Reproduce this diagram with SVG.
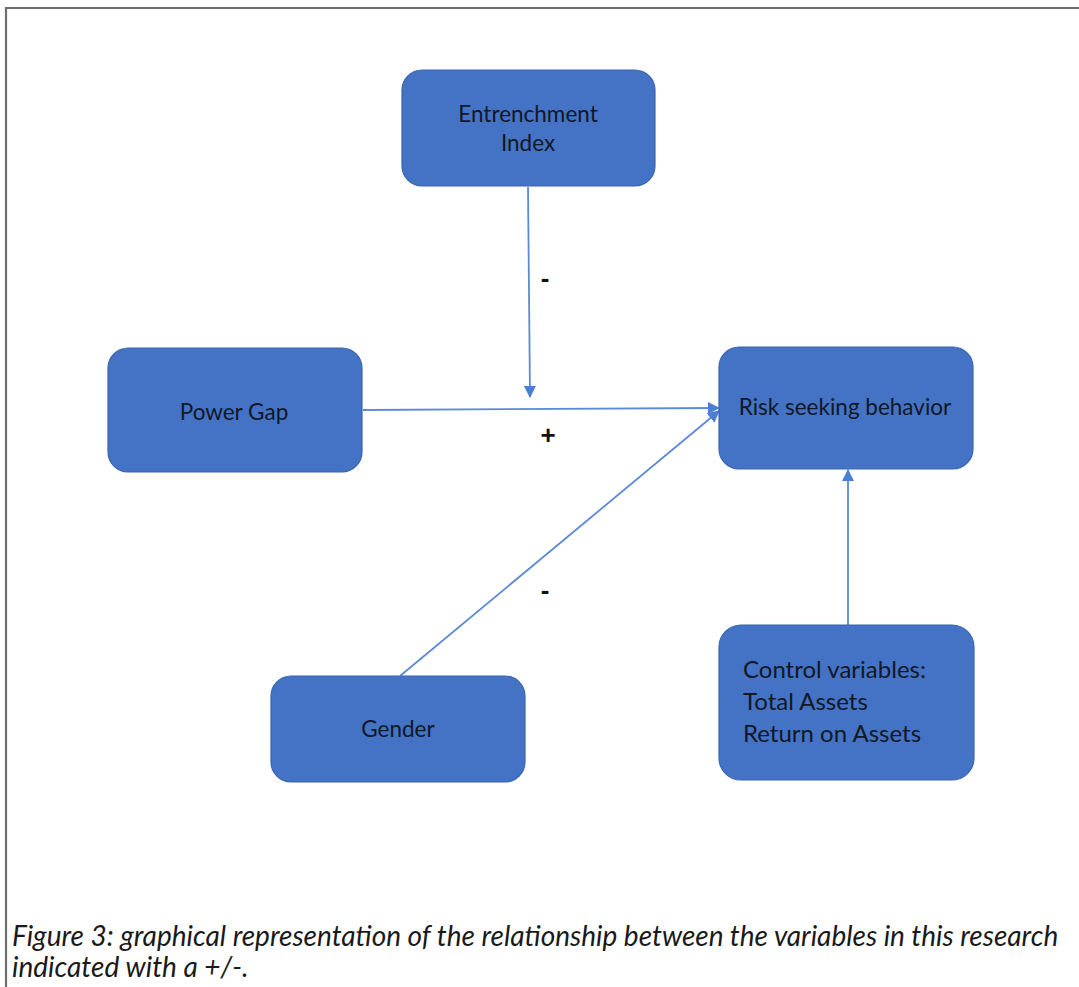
<svg xmlns="http://www.w3.org/2000/svg" width="1079" height="987" viewBox="0 0 1079 987">
<defs>
<marker id="arr" viewBox="0 0 12 12" refX="11" refY="6" markerWidth="12" markerHeight="12" markerUnits="userSpaceOnUse" orient="auto">
<path d="M0,0 L12,6 L0,12 z" fill="#4a7fd4"/>
</marker>
<style>
.node{fill:#4472C4;stroke:#3b65b0;stroke-width:1.2}
.lbl{font-family:Lato,"Open Sans","Liberation Sans",sans-serif;font-size:22.5px;fill:#111826;text-anchor:middle}
.ctl{font-family:Lato,"Open Sans","Liberation Sans",sans-serif;font-size:24px;fill:#111826}
.edge{stroke:#5b8ad6;stroke-width:1.8;fill:none}
.sign{font-family:"Liberation Sans",Arial,sans-serif;font-size:26px;font-weight:bold;fill:#111;text-anchor:middle}
.cap{font-family:Lato,"Open Sans","Liberation Sans",sans-serif;font-style:italic;font-size:28px;fill:#1a1a1a}
</style>
</defs>
<rect width="1079" height="987" fill="#fff"/>
<g id="frame" stroke="#6e6e6e" stroke-width="2.2" fill="none">
<path d="M6,987 L6,8 L1079,8"/>
</g>
<g id="connectors">
<line class="edge" x1="528" y1="187" x2="530" y2="397" marker-end="url(#arr)"/>
<line class="edge" x1="363" y1="410" x2="719" y2="408" marker-end="url(#arr)"/>
<line class="edge" x1="400" y1="676" x2="719" y2="411" marker-end="url(#arr)"/>
<line class="edge" x1="848" y1="625" x2="848" y2="470" marker-end="url(#arr)"/>
<text class="sign" x="545" y="287">-</text>
<text class="sign" x="548" y="444">+</text>
<text class="sign" x="545" y="599">-</text>
</g>
<g id="entrenchment">
<rect class="node" x="402" y="70" width="253" height="116" rx="20"/>
<text class="lbl" x="528" y="122">Entrenchment</text>
<text class="lbl" x="528" y="151">Index</text>
</g>
<g id="powergap">
<rect class="node" x="108" y="348" width="254" height="124" rx="20"/>
<text class="lbl" x="234" y="420">Power Gap</text>
</g>
<g id="risk">
<rect class="node" x="719" y="347" width="254" height="122" rx="20"/>
<text class="lbl" x="845" y="415">Risk seeking behavior</text>
</g>
<g id="gender">
<rect class="node" x="271" y="676" width="254" height="106" rx="20"/>
<text class="lbl" x="398" y="737">Gender</text>
</g>
<g id="control">
<rect class="node" x="719" y="625" width="255" height="155" rx="22"/>
<text class="ctl" x="743" y="678">Control variables:</text>
<text class="ctl" x="743" y="710">Total Assets</text>
<text class="ctl" x="743" y="742">Return on Assets</text>
</g>
<g id="caption">
<text class="cap" x="12" y="946">Figure 3: graphical representation of the relationship between the variables in this research</text>
<text class="cap" x="12" y="977">indicated with a +/-.</text>
</g>
</svg>
